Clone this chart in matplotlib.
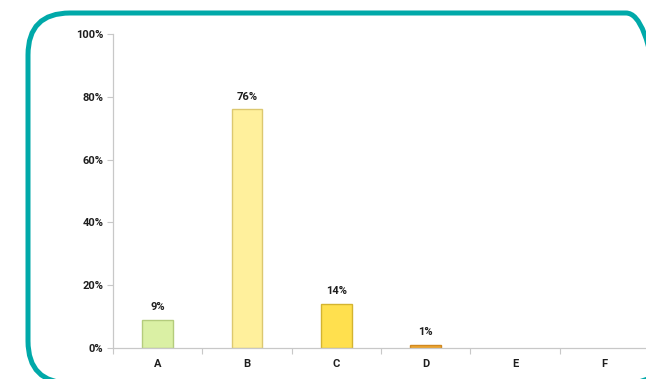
import matplotlib
matplotlib.use('Agg')
import matplotlib.pyplot as plt
from matplotlib.patches import FancyBboxPatch
from matplotlib.ticker import FixedLocator

categories = ['A', 'B', 'C', 'D', 'E', 'F']
shares = [9, 76, 14, 1, 0, 0]
bar_colors = ['#daf0a4', '#fff09c', '#ffe04e', '#f0a830', '#ffffff', '#ffffff']
edge_colors = ['#b4cc7c', '#dcc870', '#d4b430', '#d08820', '#ffffff', '#ffffff']
y_ticks = [0, 20, 40, 60, 80, 100]

plt.rcParams['font.family'] = ['Roboto', 'DejaVu Sans']

W, H = 646, 379
fig = plt.figure(figsize=(W / 100, H / 100), dpi=100)

# rounded teal frame, drawn in pixel units on a full-figure axes (y up)
frame = fig.add_axes([0, 0, 1, 1], zorder=0)
frame.set_xlim(0, W)
frame.set_ylim(0, H)
frame.axis('off')
frame.add_patch(FancyBboxPatch((28, H - 383), 640, 370,
                               boxstyle='round,pad=0,rounding_size=42',
                               fill=False, edgecolor='#00a9a9', linewidth=3.6,
                               clip_on=False))

ax = fig.add_axes([113 / W, 1 - 348 / H, 536 / W, 314 / H], zorder=1)
ax.patch.set_alpha(0)
x = list(range(len(categories)))
ax.bar(x, shares, width=0.34, color=bar_colors, edgecolor=edge_colors, linewidth=1.0)

for xi, v in zip(x, shares):
    if v > 0:
        ax.text(xi, v + 2.5, f'{v}%', ha='center', va='bottom',
                fontsize=8, fontweight='bold', color='#1e1e1e')

ax.set_xlim(-0.5, len(categories) - 0.5)
ax.set_ylim(0, 100)
ax.set_yticks(y_ticks)
ax.set_yticklabels([f'{t}%' for t in y_ticks], fontsize=8, fontweight='bold', color='#1e1e1e')
ax.set_xticks(x)
ax.set_xticklabels(categories, fontsize=8, fontweight='bold', color='#1e1e1e')
ax.tick_params(axis='x', length=0, pad=8)
ax.xaxis.set_minor_locator(FixedLocator([i - 0.5 for i in range(len(categories) + 1)]))
ax.tick_params(axis='x', which='minor', length=4, color='#c8c8c8', width=0.8)
ax.tick_params(axis='y', length=4, color='#c8c8c8', width=0.8, pad=3)

for side in ['top', 'right']:
    ax.spines[side].set_visible(False)
for side in ['left', 'bottom']:
    ax.spines[side].set_color('#c8c8c8')
    ax.spines[side].set_linewidth(0.9)

fig.savefig('out.png', dpi=100)
